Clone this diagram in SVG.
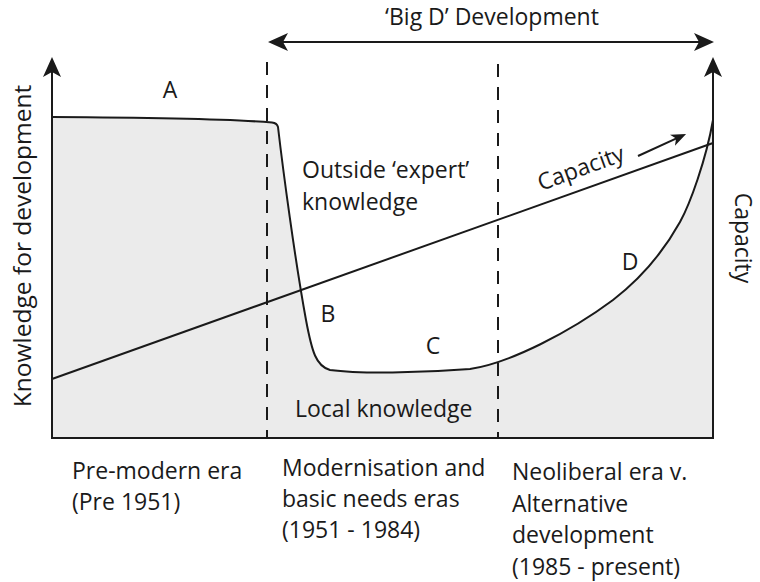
<svg xmlns="http://www.w3.org/2000/svg" width="760" height="582" viewBox="0 0 760 582">
<style>
text{font-family:"Open Sans","Liberation Sans",sans-serif;font-size:23px;fill:#1a1a1a}
.ln{fill:none;stroke:#1a1a1a;stroke-width:2}
.dash{fill:none;stroke:#1a1a1a;stroke-width:2;stroke-dasharray:13 10}
</style>
<defs>
<marker id="ah" viewBox="0 -10 21 20" refX="6" refY="0" markerWidth="21" markerHeight="20" markerUnits="userSpaceOnUse" orient="auto-start-reverse">
<path d="M20,0 L0,-9 L5,0 L0,9 Z" fill="#1a1a1a"/>
</marker>
<marker id="ahs" viewBox="0 -7 16 14" refX="5" refY="0" markerWidth="16" markerHeight="14" markerUnits="userSpaceOnUse" orient="auto">
<path d="M15,0 L0,-6 L4,0 L0,6 Z" fill="#1a1a1a"/>
</marker>
</defs>
<g id="knowledge-area">
<path d="M52,117 C150,117.5 230,119 272,122.5 Q277,123 278,127 C283,170 295,260 306,320 C312,352 316,366 330,370 C360,374 420,373 470,369 C510,363 570,332 613,300 C635,283 660,258 680,222 C690,204 706,160 713,120 L713,438 L52,438 Z" fill="#ebebeb" stroke="none"/>
</g>
<g id="dividers">
<line class="dash" x1="267" y1="62" x2="267" y2="438"/>
<line class="dash" x1="498" y1="64" x2="498" y2="438"/>
</g>
<g id="connectors">
<path id="knowledge-curve" class="ln" d="M52,117 C150,117.5 230,119 272,122.5 Q277,123 278,127 C283,170 295,260 306,320 C312,352 316,366 330,370 C360,374 420,373 470,369 C510,363 570,332 613,300 C635,283 660,258 680,222 C690,204 706,160 713,120"/>
<line id="capacity-line" class="ln" x1="52" y1="379" x2="713" y2="143"/>
<line id="capacity-arrow" class="ln" x1="638" y1="156" x2="677" y2="138.2" marker-end="url(#ahs)"/>
<line id="big-d-arrow" class="ln" x1="282" y1="42" x2="700" y2="42" marker-start="url(#ah)" marker-end="url(#ah)"/>
<path id="left-axis" class="ln" d="M52,438 L52,71" marker-end="url(#ah)"/>
<path id="right-axis" class="ln" d="M713,438 L713,71" marker-end="url(#ah)"/>
<line id="x-axis" class="ln" x1="51" y1="438" x2="714" y2="438"/>
</g>
<g id="labels">
<text x="492" y="25" text-anchor="middle">‘Big D’ Development</text>
<text x="170" y="98" text-anchor="middle">A</text>
<text x="328" y="322" text-anchor="middle">B</text>
<text x="433" y="354" text-anchor="middle">C</text>
<text x="630" y="270" text-anchor="middle">D</text>
<text x="302" y="178">Outside ‘expert’</text>
<text x="302" y="210">knowledge</text>
<text x="295" y="417">Local knowledge</text>
<text transform="translate(541,191) rotate(-20)">Capacity</text>
<text transform="translate(31,246) rotate(-90)" text-anchor="middle" style="font-size:24.5px">Knowledge for development</text>
<text transform="translate(735,238) rotate(90)" text-anchor="middle">Capacity</text>
</g>
<g id="era-labels">
<text x="72" y="479">Pre-modern era</text>
<text x="72" y="510">(Pre 1951)</text>
<text x="282" y="476">Modernisation and</text>
<text x="282" y="507">basic needs eras</text>
<text x="282" y="538">(1951 - 1984)</text>
<text x="512" y="480">Neoliberal era v.</text>
<text x="512" y="512">Alternative</text>
<text x="512" y="543">development</text>
<text x="512" y="575">(1985 - present)</text>
</g>
</svg>
